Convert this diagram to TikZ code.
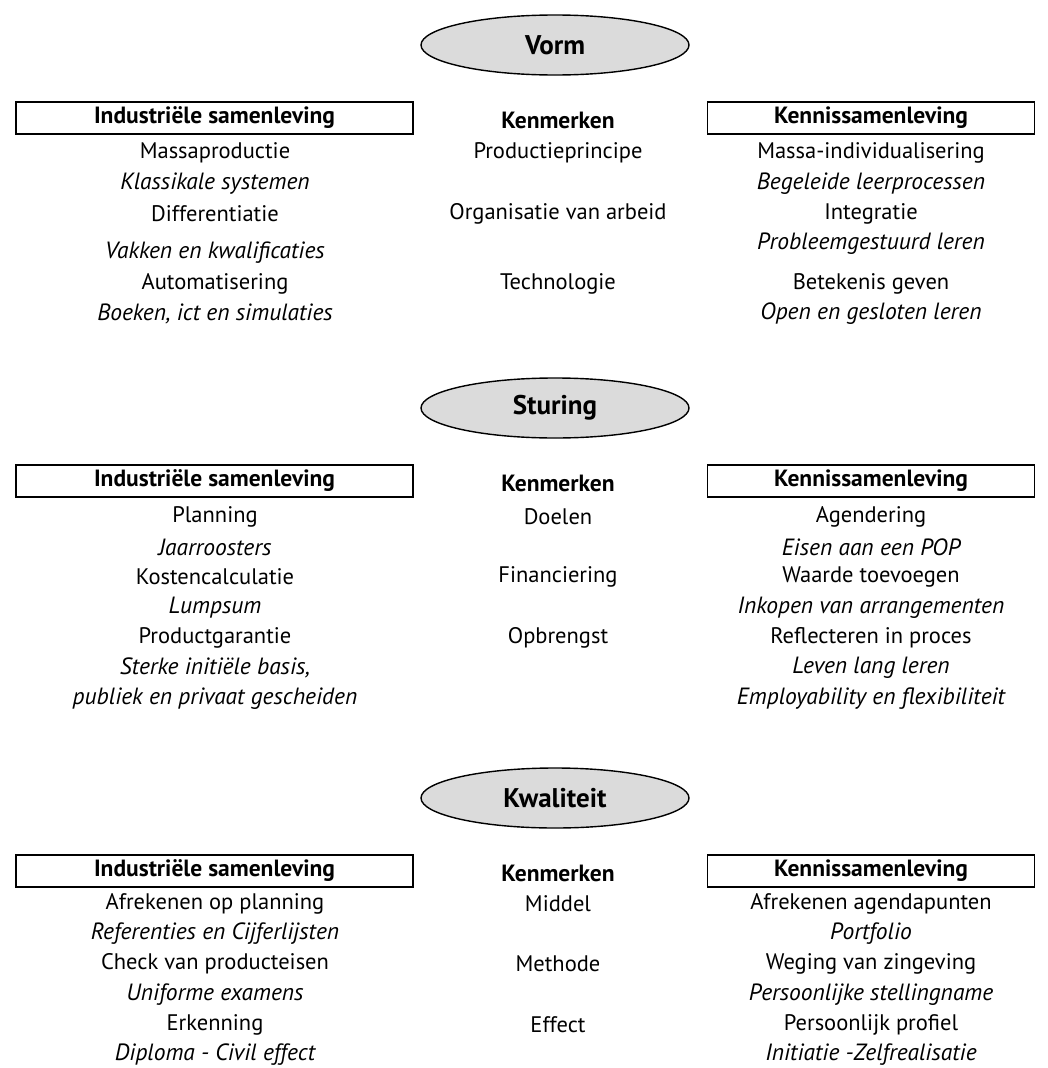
\documentclass[tikz,border=0pt]{standalone}
\usepackage{fontspec}
\setmainfont{PT Sans}
\usetikzlibrary{shapes.geometric}
\begin{document}
\begin{tikzpicture}[x=1pt,y=-1pt,
  ell/.style={draw=black,line width=1.4pt,fill=black!14,ellipse,minimum width=268pt,minimum height=60pt,inner sep=0pt,font=\fontsize{27}{30}\selectfont\bfseries},
  hbox/.style={draw=black,line width=1.8pt,minimum height=32pt,inner sep=0pt,font=\fontsize{23.5}{26}\selectfont\bfseries},
  hd/.style={font=\fontsize{23.5}{26}\selectfont\bfseries},
  tx/.style={font=\fontsize{22.5}{26}\selectfont},
  it/.style={font=\fontsize{23.5}{26}\selectfont\itshape}]
\useasboundingbox (0,0) rectangle (1047,1068);
% columns
\def\xl{215}\def\xm{558}\def\xr{871}
% ---------- Vorm ----------
\node[ell] (vorm) at (555,45) {Vorm};
\node[hbox,minimum width=397pt] (ind1) at (214.5,118) {Industriële samenleving};
\node[hd] (ken1) at (\xm,120) {Kenmerken};
\node[hbox,minimum width=327pt] (kns1) at (\xr,118) {Kennissamenleving};
\node[tx] (a1) at (\xl,153) {Massaproductie};
\node[it] (a2) at (\xl,184) {Klassikale systemen};
\node[tx] (a3) at (\xl,214) {Differentiatie};
\node[it] (a4) at (\xl,253) {Vakken en kwalificaties};
\node[tx] (a5) at (\xl,284) {Automatisering};
\node[it] (a6) at (\xl,314) {Boeken, ict en simulaties};
\node[tx] (b1) at (\xm,153) {Productieprincipe};
\node[tx] (b3) at (\xm,214) {Organisatie van arbeid};
\node[tx] (b5) at (\xm,284) {Technologie};
\node[tx] (c1) at (\xr,153) {Massa-individualisering};
\node[it] (c2) at (\xr,184) {Begeleide leerprocessen};
\node[tx] (c3) at (\xr,214) {Integratie};
\node[it] (c4) at (\xr,244) {Probleemgestuurd leren};
\node[tx] (c5) at (\xr,284) {Betekenis geven};
\node[it] (c6) at (\xr,314) {Open en gesloten leren};
% ---------- Sturing ----------
\node[ell] (stu) at (555,408) {Sturing};
\node[hbox,minimum width=397pt] (ind2) at (214.5,481) {Industriële samenleving};
\node[hd] (ken2) at (\xm,483) {Kenmerken};
\node[hbox,minimum width=327pt] (kns2) at (\xr,481) {Kennissamenleving};
\node[tx] (d1) at (\xl,517) {Planning};
\node[it] (d2) at (\xl,547) {Jaarroosters};
\node[tx] (d3) at (\xl,577) {Kostencalculatie};
\node[it] (d4) at (\xl,608) {Lumpsum};
\node[tx] (d5) at (\xl,638) {Productgarantie};
\node[it] (d6) at (\xl,668) {Sterke initiële basis,};
\node[it] (d7) at (\xl,699) {publiek en privaat gescheiden};
\node[tx] (e1) at (\xm,517) {Doelen};
\node[tx] (e3) at (\xm,577) {Financiering};
\node[tx] (e5) at (\xm,638) {Opbrengst};
\node[tx] (f1) at (\xr,517) {Agendering};
\node[it] (f2) at (\xr,547) {Eisen aan een POP};
\node[tx] (f3) at (\xr,577) {Waarde toevoegen};
\node[it] (f4) at (\xr,608) {Inkopen van arrangementen};
\node[tx] (f5) at (\xr,638) {Reflecteren in proces};
\node[it] (f6) at (\xr,668) {Leven lang leren};
\node[it] (f7) at (\xr,699) {Employability en flexibiliteit};
% ---------- Kwaliteit ----------
\node[ell] (kwa) at (555,798) {Kwaliteit};
\node[hbox,minimum width=397pt] (ind3) at (214.5,871) {Industriële samenleving};
\node[hd] (ken3) at (\xm,873) {Kenmerken};
\node[hbox,minimum width=327pt] (kns3) at (\xr,871) {Kennissamenleving};
\node[tx] (g1) at (\xl,904) {Afrekenen op planning};
\node[it] (g2) at (\xl,934) {Referenties en Cijferlijsten};
\node[tx] (g3) at (\xl,964) {Check van producteisen};
\node[it] (g4) at (\xl,995) {Uniforme examens};
\node[tx] (g5) at (\xl,1025) {Erkenning};
\node[it] (g6) at (\xl,1055) {Diploma - Civil effect};
\node[tx] (h1) at (\xm,904) {Middel};
\node[tx] (h3) at (\xm,964) {Methode};
\node[tx] (h5) at (\xm,1025) {Effect};
\node[tx] (i1) at (\xr,904) {Afrekenen agendapunten};
\node[it] (i2) at (\xr,934) {Portfolio};
\node[tx] (i3) at (\xr,964) {Weging van zingeving};
\node[it] (i4) at (\xr,995) {Persoonlijke stellingname};
\node[tx] (i5) at (\xr,1025) {Persoonlijk profiel};
\node[it] (i6) at (\xr,1055) {Initiatie -Zelfrealisatie};
\end{tikzpicture}
\end{document}
